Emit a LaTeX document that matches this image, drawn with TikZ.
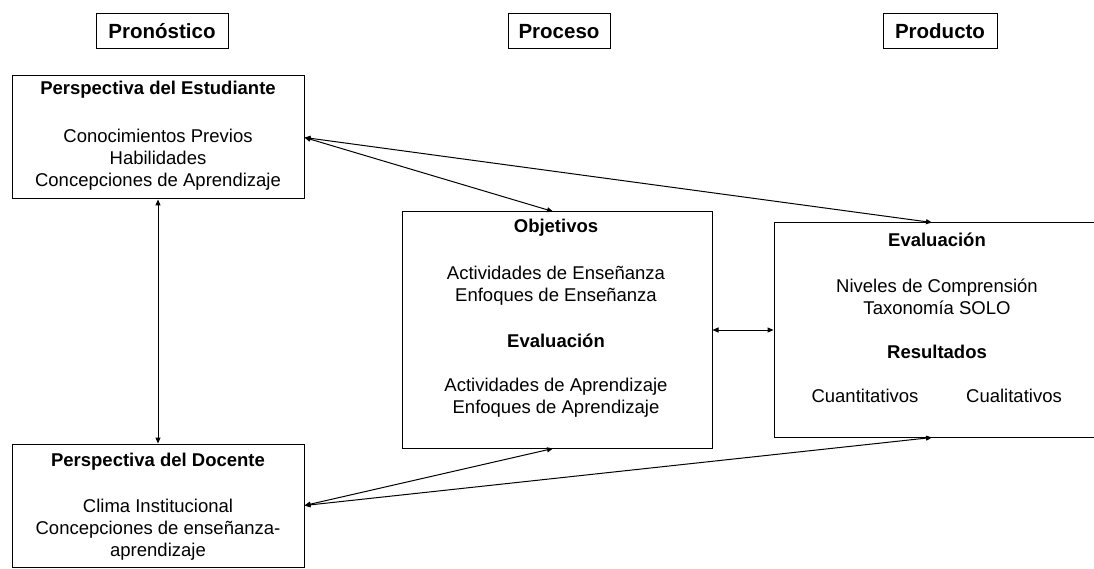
\documentclass[tikz,border=0pt]{standalone}
\usepackage{fontspec}
\setmainfont{Liberation Sans}
\usetikzlibrary{arrows.meta}

\begin{document}
\begin{tikzpicture}[x=1pt,y=-1pt,
    box/.style={draw,line width=1pt,inner sep=0pt},
    head/.style={draw,line width=1pt,inner sep=0pt,minimum height=35pt,font=\fontsize{20.5}{24}\selectfont\bfseries},
    txt/.style={inner sep=0pt,align=center,font=\fontsize{18.5}{22}\selectfont},
    ttl/.style={inner sep=0pt,align=center,font=\fontsize{18.5}{22}\selectfont\bfseries}]
  \useasboundingbox (0,0) rectangle (1094,569);
  % columns
  \draw
    (162,31.5) node[head,minimum width=132pt] (pron){Pronóstico}
    (559,31.5) node[head,minimum width=102pt] (proc){Proceso}
    (940,31.5) node[head,minimum width=114pt] (prod){Producto};
  % boxes
  \draw
    (158,137.5) node[box,minimum width=292pt,minimum height=123pt] (est){}
    (158,505.5) node[box,minimum width=292pt,minimum height=123pt] (doc){}
    (557,330) node[box,minimum width=310pt,minimum height=236pt] (obj){}
    (937,330) node[box,minimum width=326pt,minimum height=214pt] (eva){};
  % texts
  \draw
    (158,90) node[ttl] (estT){Perspectiva del Estudiante}
    (158,160) node[txt] (estL){Conocimientos Previos\\Habilidades\\Concepciones de Aprendizaje}
    (158,462) node[ttl] (docT){Perspectiva del Docente}
    (158,530) node[txt] (docL){Clima Institucional\\Concepciones de enseñanza-\\aprendizaje}
    (556,228) node[ttl] (objT){Objetivos}
    (556,286) node[txt] (objL){Actividades de Enseñanza\\Enfoques de Enseñanza}
    (556,341) node[ttl] (objE){Evaluación}
    (556,397.5) node[txt] (objA){Actividades de Aprendizaje\\Enfoques de Aprendizaje}
    (937,239.5) node[ttl] (evaT){Evaluación}
    (937,297) node[txt] (evaL){Niveles de Comprensión\\Taxonomía SOLO}
    (937,352) node[ttl] (evaR){Resultados}
    (865,396) node[txt] (cuan){Cuantitativos}
    (1014,396) node[txt] (cual){Cualitativos};
  \begin{scope}[>={Triangle[length=6pt,width=5pt]},<->,line width=1pt]
    \draw (est.east) to ([xshift=-4pt]obj.north);
    \draw (est.east) to ([xshift=-5pt]eva.north);
    \draw (est.south) to (doc.north);
    \draw (obj.east) to (eva.west);
    \draw (doc.east) to ([xshift=-4pt]obj.south);
    \draw (doc.east) to ([xshift=-5pt]eva.south);
  \end{scope}
\end{tikzpicture}
\end{document}
